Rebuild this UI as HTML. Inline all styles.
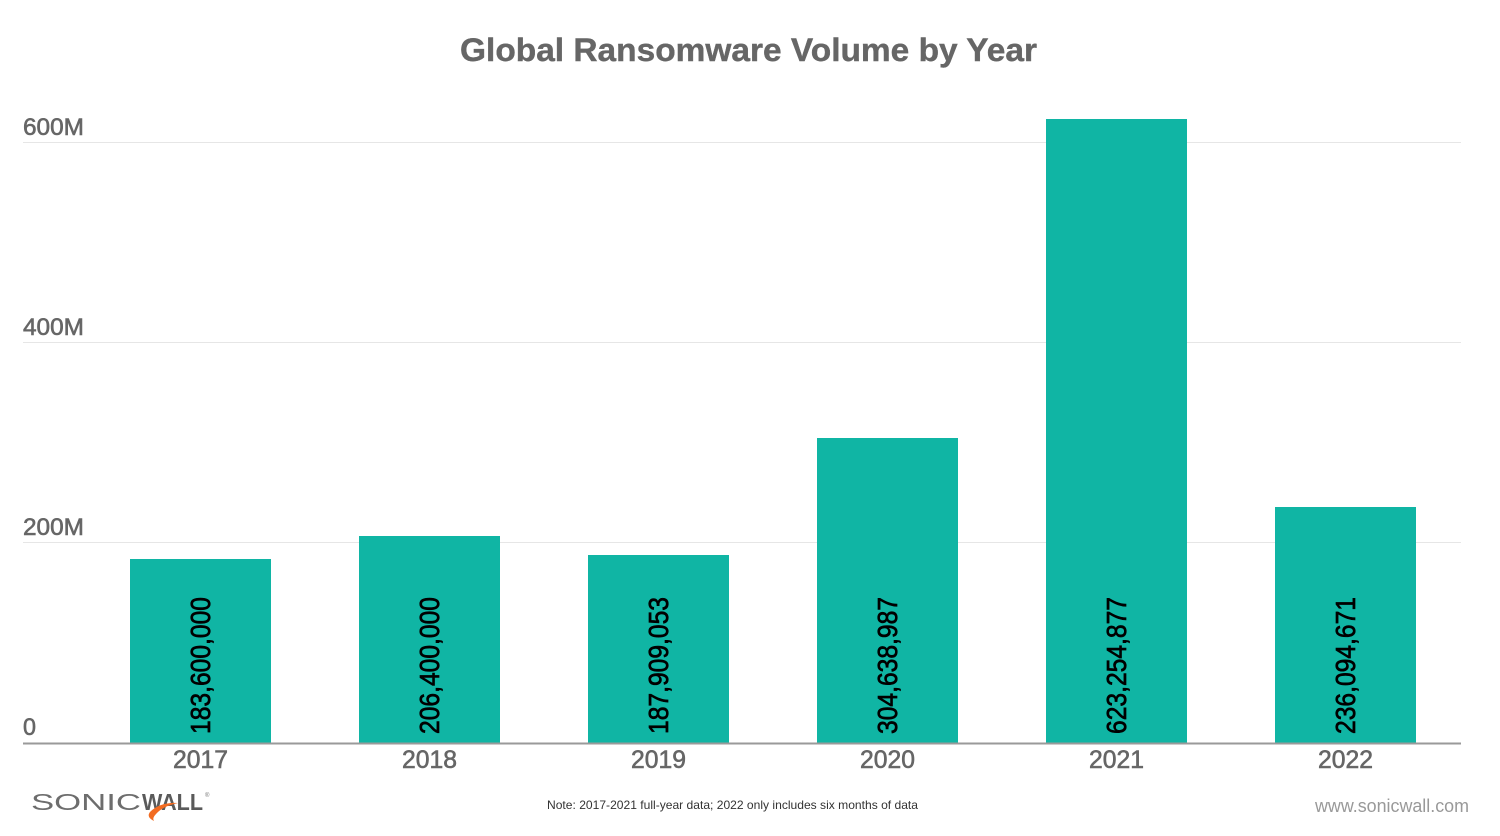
<!DOCTYPE html>
<html>
<head>
<meta charset="utf-8">
<style>
html,body{margin:0;padding:0;background:#fff;}
svg{display:block;}
text{font-family:"Liberation Sans",sans-serif;}
</style>
</head>
<body>
<svg width="1500" height="836" viewBox="0 0 1500 836" xmlns="http://www.w3.org/2000/svg">
  <rect width="1500" height="836" fill="#fff"/>
  <!-- title -->
  <text x="460" y="61" font-size="32" font-weight="bold" fill="#666" stroke="#666" stroke-width="0.4" textLength="577" lengthAdjust="spacingAndGlyphs">Global Ransomware Volume by Year</text>

  <!-- gridlines -->
  <line x1="23" y1="142.5" x2="1461" y2="142.5" stroke="#e6e6e6" stroke-width="1"/>
  <line x1="23" y1="342.5" x2="1461" y2="342.5" stroke="#e6e6e6" stroke-width="1"/>
  <line x1="23" y1="542.5" x2="1461" y2="542.5" stroke="#e6e6e6" stroke-width="1"/>

  <!-- y labels -->
  <g font-size="24" fill="#666" stroke="#666" stroke-width="0.6">
    <text x="23" y="135" textLength="61" lengthAdjust="spacingAndGlyphs">600M</text>
    <text x="23" y="335" textLength="61" lengthAdjust="spacingAndGlyphs">400M</text>
    <text x="23" y="535" textLength="61" lengthAdjust="spacingAndGlyphs">200M</text>
    <text x="23" y="735" textLength="13" lengthAdjust="spacingAndGlyphs">0</text>
  </g>

  <!-- bars -->
  <g fill="#10B5A4">
    <rect x="130" y="559" width="141" height="184"/>
    <rect x="359" y="536" width="141" height="207"/>
    <rect x="588" y="555" width="141" height="188"/>
    <rect x="817" y="438" width="141" height="305"/>
    <rect x="1046" y="119" width="141" height="624"/>
    <rect x="1275" y="507" width="141" height="236"/>
  </g>

  <!-- axis -->
  <line x1="23" y1="743.5" x2="1461" y2="743.5" stroke="#9a9a9a" stroke-width="2"/>

  <!-- bar value labels -->
  <g font-size="28" fill="#000" stroke="#000" stroke-width="0.7">
    <text transform="translate(210,734) rotate(-90)" textLength="137" lengthAdjust="spacingAndGlyphs">183,600,000</text>
    <text transform="translate(439,734) rotate(-90)" textLength="137" lengthAdjust="spacingAndGlyphs">206,400,000</text>
    <text transform="translate(668,734) rotate(-90)" textLength="137" lengthAdjust="spacingAndGlyphs">187,909,053</text>
    <text transform="translate(897,734) rotate(-90)" textLength="137" lengthAdjust="spacingAndGlyphs">304,638,987</text>
    <text transform="translate(1126,734) rotate(-90)" textLength="137" lengthAdjust="spacingAndGlyphs">623,254,877</text>
    <text transform="translate(1355,734) rotate(-90)" textLength="137" lengthAdjust="spacingAndGlyphs">236,094,671</text>
  </g>

  <!-- x labels -->
  <g font-size="25" fill="#666" stroke="#666" stroke-width="0.6" text-anchor="middle">
    <text x="200.5" y="768" textLength="55" lengthAdjust="spacingAndGlyphs">2017</text>
    <text x="429.5" y="768" textLength="55" lengthAdjust="spacingAndGlyphs">2018</text>
    <text x="658.5" y="768" textLength="55" lengthAdjust="spacingAndGlyphs">2019</text>
    <text x="887.5" y="768" textLength="55" lengthAdjust="spacingAndGlyphs">2020</text>
    <text x="1116.5" y="768" textLength="55" lengthAdjust="spacingAndGlyphs">2021</text>
    <text x="1345.5" y="768" textLength="55" lengthAdjust="spacingAndGlyphs">2022</text>
  </g>

  <!-- logo -->
  <text x="31" y="810" font-size="23" fill="#6d6d6d" textLength="110" lengthAdjust="spacingAndGlyphs">SONIC</text>
  <text x="142" y="810" font-size="23" font-weight="bold" fill="#5a5a5a" textLength="61" lengthAdjust="spacingAndGlyphs">WALL</text>
  <path d="M150 812 Q160 802 178 803 Q163 806 156 814 Q152 818 154 821 Q146 817 150 812 Z" fill="#f26b21"/>
  <text x="205" y="797" font-size="6" fill="#777">®</text>

  <!-- note -->
  <text x="547" y="809" font-size="12" fill="#333" textLength="371" lengthAdjust="spacingAndGlyphs">Note: 2017-2021 full-year data; 2022 only includes six months of data</text>

  <!-- url -->
  <text x="1315" y="812" font-size="18" fill="#999" textLength="154" lengthAdjust="spacingAndGlyphs">www.sonicwall.com</text>
</svg>
</body>
</html>
